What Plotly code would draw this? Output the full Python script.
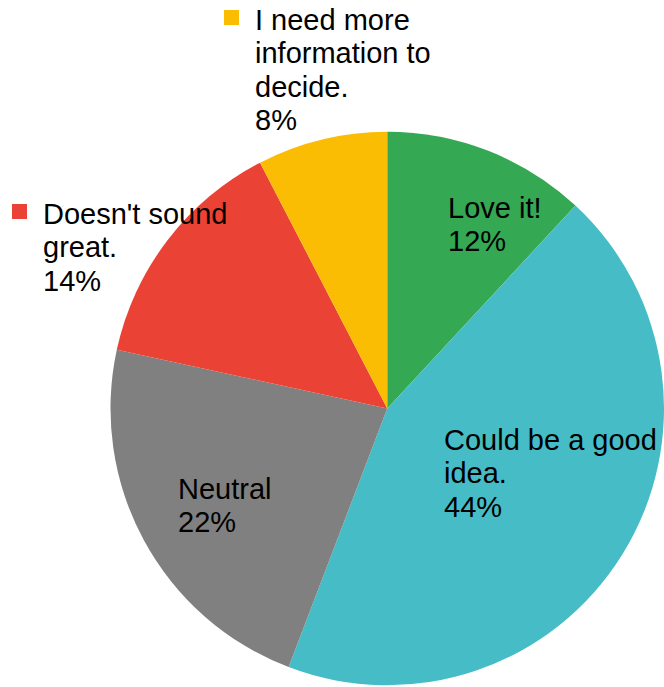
import plotly.graph_objects as go

labels = ["Love it!", "Could be a good idea.", "Neutral", "Doesn't sound great.", "I need more information to decide."]
# slice shares
values = [11.9, 43.9, 22.6, 14.0, 7.6]
# percentage labels as printed on the chart
pct_labels = ["12%", "44%", "22%", "14%", "8%"]
colors = ["#34A853", "#46BDC6", "#808080", "#EA4335", "#FBBC04"]
# wrapped label lines for display
display_lines = [["Love it!"], ["Could be a good", "idea."], ["Neutral"],
                 ["Doesn't sound", "great."], ["I need more", "information to", "decide."]]
# label placement: left x and first baseline y (pixels from top-left)
label_pos = [(446, 216), (442, 448), (176, 497), (41, 222), (253, 28)]
with_marker = [False, False, False, True, True]

W, H = 664, 687
FONT = "Liberation Sans, Arial, sans-serif"
FS = 29
LINE = 33.3
BASE_OFF = 26  # baseline offset from annotation top

fig = go.Figure(go.Pie(
    labels=labels, values=values, sort=False, direction="clockwise", rotation=0,
    marker=dict(colors=colors, line=dict(width=0)),
    textinfo="none", hoverinfo="label+percent", showlegend=False,
    domain=dict(x=[110.5 / W, 1.0], y=[1.0 / H, 556.0 / H]),
))

annotations = []
shapes = []
for lines, pct, c, (px, by), mk in zip(display_lines, pct_labels, colors, label_pos, with_marker):
    all_lines = lines + [pct]
    for i, t in enumerate(all_lines):
        top = by + i * LINE - BASE_OFF
        annotations.append(dict(
            x=px / W, y=1 - top / H, xref="paper", yref="paper",
            xanchor="left", yanchor="top", align="left", showarrow=False,
            text=t, font=dict(family=FONT, size=FS, color="#000000"),
        ))
    if mk:
        sx0, sy0 = px - 29, by - 18
        shapes.append(dict(type="rect", xref="paper", yref="paper",
                           x0=sx0 / W, x1=(sx0 + 15) / W, y0=1 - (sy0 + 15) / H, y1=1 - sy0 / H,
                           fillcolor=c, line=dict(width=0)))

fig.update_layout(
    width=W, height=H, margin=dict(l=0, r=0, t=0, b=0),
    paper_bgcolor="white", plot_bgcolor="white",
    annotations=annotations, shapes=shapes,
)
fig.write_html("out.html")
